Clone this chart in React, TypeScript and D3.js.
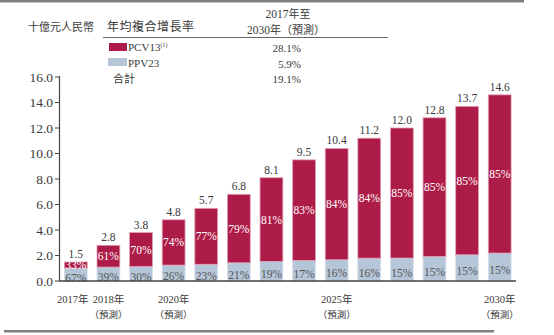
import React from "react";
import * as d3 from "d3";

const years = ["2017", "2018", "2019", "2020", "2021", "2022", "2023", "2024", "2025", "2026", "2027", "2028", "2029", "2030"];
const totals = [1.5, 2.8, 3.8, 4.8, 5.7, 6.8, 8.1, 9.5, 10.4, 11.2, 12.0, 12.8, 13.7, 14.6];
const pcvShare = [33, 61, 70, 74, 77, 79, 81, 83, 84, 84, 85, 85, 85, 85];
const ppvShare = [67, 39, 30, 26, 23, 21, 19, 17, 16, 16, 15, 15, 15, 15];
const yTicks = [0, 2, 4, 6, 8, 10, 12, 14, 16];
const xLabelYears: { [k: string]: [string, string] } = {
  "2017": ["2017年", ""],
  "2018": ["2018年", "（預測）"],
  "2020": ["2020年", "（預測）"],
  "2025": ["2025年", "（預測）"],
  "2030": ["2030年", "（預測）"],
};
const legendNames = ["PCV13", "PPV23", "合計"];
const cagrValues = ["28.1%", "5.9%", "19.1%"];

const RED = "#AD1C48";
const BLUE = "#B5C6D8";
const TXT = "#3a3a3a";
const SERIF = "'Liberation Serif', 'DejaVu Serif', serif";
const CJK = "'Noto Sans CJK TC', 'Noto Sans CJK SC', sans-serif";

export default function App() {
  const W = 554, H = 335;
  const x = d3.scaleBand<string>().domain(years).range([59.5, 516]).paddingInner(0.3).paddingOuter(0.15);
  const y = d3.scaleLinear().domain([0, 16]).range([281, 77]);
  const bw = x.bandwidth();

  return (
    <svg width={W} height={H} style={{ position: "absolute", left: 0, top: 0, background: "#fff" }}>
      {/* frame lines */}
      <rect x={0} y={0} width={524} height={2.5} fill="#808080" />
      <rect x={4} y={330} width={490} height={2.5} fill="#808080" />

      {/* header */}
      <text x={28} y={31} fontFamily={CJK} fontSize={11} fill={TXT}>十億元人民幣</text>
      <text x={107} y={31} fontFamily={CJK} fontSize={12} fill={TXT} letterSpacing={0.5}>年均複合增長率</text>
      <text x={288} y={17.5} fontFamily={SERIF} fontSize={11.5} fill={TXT} textAnchor="middle">
        2017<tspan fontFamily={CJK} fontSize={11}>年至</tspan>
      </text>
      <text x={286} y={33.5} fontFamily={SERIF} fontSize={11.5} fill={TXT} textAnchor="middle">
        2030<tspan fontFamily={CJK} fontSize={11}>年（預測）</tspan>
      </text>
      <line x1={103} x2={388} y1={37.5} y2={37.5} stroke="#666" strokeWidth={1} />

      {/* legend */}
      <rect x={109} y={43} width={18} height={8} fill={RED} />
      <rect x={108} y={58} width={19} height={8} fill={BLUE} />
      <text x={128} y={51} fontFamily={SERIF} fontSize={11} fill={TXT}>
        {legendNames[0]}
        <tspan fontSize={6} dy={-4}>(1)</tspan>
      </text>
      <text x={128} y={67} fontFamily={SERIF} fontSize={11} fill={TXT}>{legendNames[1]}</text>
      <text x={113} y={83} fontFamily={CJK} fontSize={11} fill={TXT}>{legendNames[2]}</text>
      {cagrValues.map((v, i) => (
        <text key={v} x={301} y={52 + i * 15.5} fontFamily={SERIF} fontSize={11} fill={TXT} textAnchor="end">{v}</text>
      ))}

      {/* bars */}
      {years.map((yr, i) => {
        const t = totals[i];
        const ppv = (t * ppvShare[i]) / 100;
        const x0 = x(yr)!;
        const yPpvTop = y(ppv);
        const yTop = y(t);
        const cx = x0 + bw / 2;
        return (
          <g key={yr}>
            <rect x={x0} y={yPpvTop} width={bw} height={y(0) - yPpvTop} fill={BLUE} stroke="#d5e0ea" strokeWidth={0.8} />
            <rect x={x0} y={yTop} width={bw} height={yPpvTop - yTop} fill={RED} stroke="#e2a0b4" strokeWidth={0.8} />
            <text x={cx} y={(yTop + yPpvTop) / 2} dy="0.35em" fontFamily={SERIF} fontSize={11.5} fill="#fff" textAnchor="middle">{pcvShare[i]}%</text>
            <text x={cx} y={(yPpvTop + y(0)) / 2 + 3} dy="0.35em" fontFamily={SERIF} fontSize={11.5} fill="#555" textAnchor="middle">{ppvShare[i]}%</text>
            <text x={cx} y={yTop - 4} fontFamily={SERIF} fontSize={11.5} fill={TXT} textAnchor="middle">{t.toFixed(1)}</text>
          </g>
        );
      })}

      {/* y axis */}
      <line x1={59.5} x2={59.5} y1={76} y2={281} stroke="#444" strokeWidth={1.2} />
      {yTicks.map((v) => (
        <g key={v}>
          <line x1={55} x2={59.5} y1={y(v)} y2={y(v)} stroke="#444" strokeWidth={1} />
          <text x={53} y={y(v)} dy="0.35em" fontFamily={SERIF} fontSize={13.5} fill={TXT} textAnchor="end">{v.toFixed(1)}</text>
        </g>
      ))}
      {/* x axis */}
      <line x1={59} x2={516} y1={281} y2={281} stroke="#444" strokeWidth={1.5} />
      {years.map((yr, i) => {
        const lab = xLabelYears[yr];
        if (!lab) return null;
        const cx = x(yr)! + bw / 2 + (i === 0 ? -3 : 0);
        return (
          <g key={"l" + yr}>
            <text x={cx} y={303} fontFamily={SERIF} fontSize={10.5} fill={TXT} textAnchor="middle">
              {lab[0].slice(0, 4)}<tspan fontFamily={CJK}>{lab[0].slice(4)}</tspan>
            </text>
            {lab[1] && (
              <text x={cx} y={318} fontFamily={CJK} fontSize={9.5} fill={TXT} textAnchor="middle">{lab[1]}</text>
            )}
          </g>
        );
      })}
    </svg>
  );
}
